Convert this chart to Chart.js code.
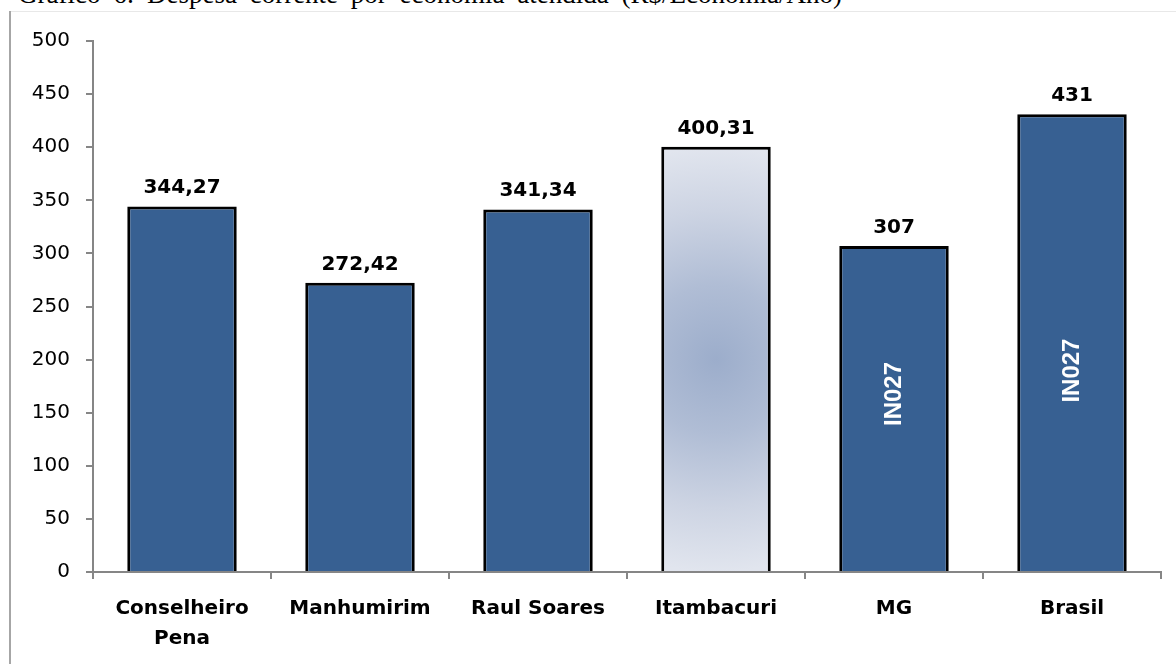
<!DOCTYPE html>
<html>
<head>
<meta charset="utf-8">
<script src="https://cdn.jsdelivr.net/npm/chart.js@4.4.1/dist/chart.umd.min.js"></script>
<style>
  html, body { margin: 0; padding: 0; background: #fff; overflow: hidden; }
  #wrap { position: relative; width: 1176px; height: 664px; }
  #title { position: absolute; left: 18px; top: -19px; font-family: "Liberation Serif", "Times New Roman", serif;
           font-size: 27px; line-height: 27px; white-space: nowrap; word-spacing: 6px; color: #000; }
  #frameTop { position: absolute; left: 10px; top: 11px; width: 1166px; height: 1px; background: #e8e8e8; }
  #frameLeft { position: absolute; left: 9px; top: 11px; width: 2px; height: 653px; background: #a6a6a6; }
  canvas { position: absolute; left: 0; top: 0; }
</style>
</head>
<body>
<div id="wrap">
  <div id="title">Gráfico 6: Despesa corrente por economia atendida (R$/Economia/Ano)</div>
  <div id="frameTop"></div>
  <div id="frameLeft"></div>
  <canvas id="c" width="1176" height="664"></canvas>
</div>
<script>
const categories = [["Conselheiro", "Pena"], "Manhumirim", "Raul Soares", "Itambacuri", "MG", "Brasil"];
const values = [344.27, 272.42, 341.34, 400.31, 307, 431];
const valueLabels = ["344,27", "272,42", "341,34", "400,31", "307", "431"];
const innerLabels = ["", "", "", "", "IN027", "IN027"];
const yTicks = [0, 50, 100, 150, 200, 250, 300, 350, 400, 450, 500];

const BLUE = '#376092';

function barFill(c) {
  if (c.dataIndex !== 3) return BLUE;
  const ch = c.chart;
  if (!ch.chartArea || !ch.scales.x || !ch.scales.y) return '#c2cbdd';
  const x = ch.scales.x.getPixelForValue(3);
  const yTop = ch.scales.y.getPixelForValue(values[3]);
  const yBot = ch.scales.y.getPixelForValue(0);
  const cy = (yTop + yBot) / 2;
  const r = (yBot - yTop) / 2;
  const g = ch.ctx.createRadialGradient(x, cy, 0, x, cy, r);
  g.addColorStop(0, '#9cadcb');
  g.addColorStop(0.35, '#b0bdd5');
  g.addColorStop(0.7, '#cdd4e3');
  g.addColorStop(1, '#e1e5ee');
  return g;
}

const labelPlugin = {
  id: 'valueLabels',
  afterDatasetsDraw(chart, args, opts) {
    const ctx = chart.ctx;
    const meta = chart.getDatasetMeta(0);
    ctx.save();
    meta.data.forEach((bar, i) => {
      ctx.fillStyle = '#000';
      ctx.font = 'bold 20px "DejaVu Sans"';
      ctx.textAlign = 'center';
      ctx.textBaseline = 'alphabetic';
      ctx.fillText(valueLabels[i], bar.x, bar.y - 13);
      if (innerLabels[i]) {
        const frac = opts.innerFractions[i];
        const base = chart.scales.y.getPixelForValue(0);
        const cy = base - (base - bar.y) * frac;
        ctx.save();
        ctx.translate(bar.x, cy);
        ctx.rotate(-Math.PI / 2);
        ctx.fillStyle = '#fff';
        ctx.font = 'bold 24px "Liberation Sans Narrow", "Liberation Sans", sans-serif';
        ctx.textAlign = 'center';
        ctx.textBaseline = 'middle';
        ctx.fillText(innerLabels[i], 0, 0);
        ctx.restore();
      }
    });
    ctx.restore();
  }
};

new Chart(document.getElementById('c'), {
  type: 'bar',
  data: {
    labels: categories,
    datasets: [{
      data: values,
      backgroundColor: barFill,
      borderColor: '#000',
      borderWidth: 3,
      borderSkipped: 'bottom',
      categoryPercentage: 1,
      barPercentage: 0.615
    }]
  },
  options: {
    responsive: false,
    animation: false,
    layout: { padding: { top: 41, right: 15, left: 0, bottom: 0 } },
    plugins: {
      legend: { display: false },
      tooltip: { enabled: false },
      valueLabels: { innerFractions: { 4: 0.546, 5: 0.44 } }
    },
    scales: {
      x: {
        offset: true,
        grid: { offset: true, drawOnChartArea: false, drawTicks: true, tickLength: 7, color: '#868686', lineWidth: 2 },
        border: { color: '#868686', width: 2 },
        ticks: { color: '#000', font: { family: 'DejaVu Sans', size: 20, weight: 'bold', lineHeight: 1.5 }, padding: 15, maxRotation: 0, autoSkip: false },
        afterFit(scale) { scale.height = 92; }
      },
      y: {
        min: 0, max: 500,
        afterBuildTicks(scale) { scale.ticks = yTicks.map(v => ({ value: v })); },
        grid: { drawOnChartArea: false, drawTicks: true, tickLength: 7, color: '#868686', lineWidth: 2 },
        border: { color: '#868686', width: 2 },
        ticks: { color: '#000', font: { family: 'DejaVu Sans', size: 20 }, padding: 16 },
        afterFit(scale) { scale.width = 93; }
      }
    }
  },
  plugins: [labelPlugin]
});
</script>
</body>
</html>
